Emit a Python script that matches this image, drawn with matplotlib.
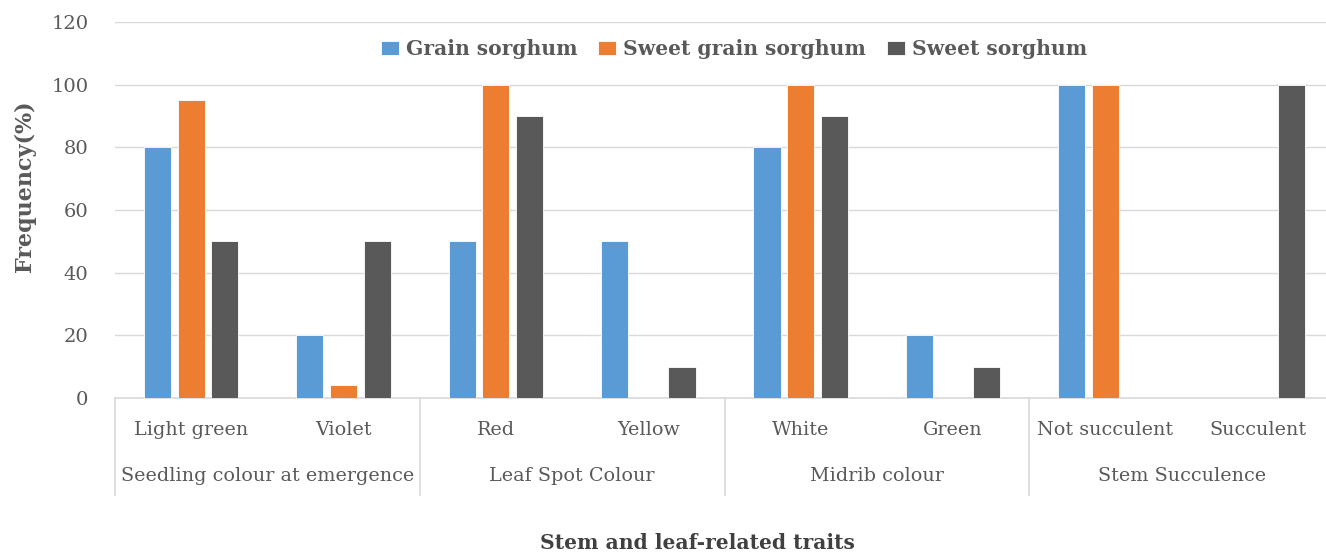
import matplotlib
matplotlib.use("Agg")
import matplotlib.pyplot as plt
import numpy as np
from matplotlib.transforms import blended_transform_factory

subcats = ["Light green", "Violet", "Red", "Yellow", "White", "Green", "Not succulent", "Succulent"]
groups = ["Seedling colour at emergence", "Leaf Spot Colour", "Midrib colour", "Stem Succulence"]
series_names = ["Grain sorghum", "Sweet grain sorghum", "Sweet sorghum"]
grain = [80, 20, 50, 50, 80, 20, 100, 0]
sweet_grain = [95, 4, 100, 0, 100, 0, 100, 0]
sweet = [50, 50, 90, 10, 90, 10, 0, 100]
yticks = [0, 20, 40, 60, 80, 100, 120]

colors = ["#5B9BD5", "#ED7D31", "#595959"]
txt = "#595959"
font = ["DejaVu Serif"]
plt.rcParams['font.family'] = font

W, H = 1326, 553
fig = plt.figure(figsize=(W / 100, H / 100), dpi=100)
left_px, right_px, top_px, bot_px = 115, 1334, 22, 398
ax = fig.add_axes([left_px / W, (H - bot_px) / H, 1 - left_px / W, (bot_px - top_px) / H])
pitch = (right_px - left_px) / 8
xmax = -0.5 + (W - left_px) / pitch

x = np.arange(len(subcats))
bw = 0.178
off = 0.221
for i, (vals, c, name) in enumerate(zip([grain, sweet_grain, sweet], colors, series_names)):
    ax.bar(x + (i - 1) * off, vals, width=bw, color=c, label=name, zorder=3,
           edgecolor="white", linewidth=0.6)

ax.set_xlim(-0.5, xmax)
ax.set_ylim(0, 120)
ax.set_yticks(yticks)
ax.set_yticklabels([str(v) for v in yticks], color=txt, fontsize=14)
ax.tick_params(axis="y", length=0, pad=19)
ax.set_xticks([])
ax.grid(axis="y", color="#d9d9d9", linewidth=1, zorder=0)
for s in ["top", "right", "left"]:
    ax.spines[s].set_visible(False)
ax.spines["bottom"].set_color("#d9d9d9")
ax.spines["bottom"].set_linewidth(1.2)

tr = blended_transform_factory(ax.transData, ax.transAxes)
ybot = (bot_px - 495) / (bot_px - top_px)
for b in [-0.5, 1.5, 3.5, 5.5, 7.5]:
    ax.plot([b, b], [0, ybot], transform=tr, color="#d9d9d9", lw=1.2, clip_on=False)

ysub = (bot_px - 430) / (bot_px - top_px)
ygrp = (bot_px - 476) / (bot_px - top_px)
for xi, lab in zip(x, subcats):
    ax.text(xi, ysub, lab, transform=tr, ha="center", va="center", color=txt, fontsize=13.8)
for gi, lab in enumerate(groups):
    ax.text(2 * gi + 0.5, ygrp, lab, transform=tr, ha="center", va="center", color=txt, fontsize=13.8)

leg = ax.legend(loc="center", bbox_to_anchor=((734 - left_px) / (W - left_px), (bot_px - 49) / (bot_px - top_px)),
                ncol=3, frameon=False, handlelength=0.9, handleheight=0.75, handletextpad=0.35,
                columnspacing=1.0, prop={"weight": "bold", "size": 14.6})
for t in leg.get_texts():
    t.set_color(txt)

fig.text(25 / W, 1 - 186 / H, "Frequency(%)", rotation=90, ha="center", va="center",
         fontsize=16, fontweight="bold", color=txt)
fig.text(697 / W, 1 - 543 / H, "Stem and leaf-related traits", ha="center", va="center",
         fontsize=14.6, fontweight="bold", color="#404040")

fig.savefig("out.png", dpi=100)
